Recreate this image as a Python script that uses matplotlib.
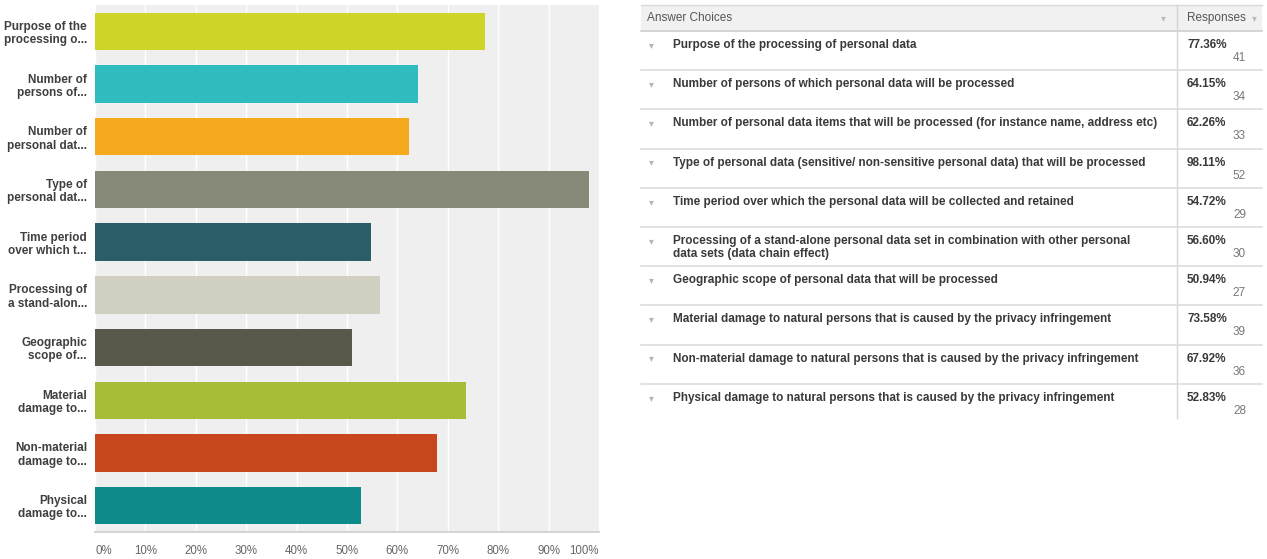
import matplotlib
matplotlib.use("Agg")
import matplotlib.pyplot as plt
from matplotlib.patches import Rectangle

W, H = 1267, 559
DPI = 100

short_labels = ["Purpose of the\nprocessing o...", "Number of\npersons of...", "Number of\npersonal dat...",
                "Type of\npersonal dat...", "Time period\nover which t...", "Processing of\na stand-alon...",
                "Geographic\nscope of...", "Material\ndamage to...", "Non-material\ndamage to...",
                "Physical\ndamage to..."]
choices = ["Purpose of the processing of personal data",
           "Number of persons of which personal data will be processed",
           "Number of personal data items that will be processed (for instance name, address etc)",
           "Type of personal data (sensitive/ non-sensitive personal data) that will be processed",
           "Time period over which the personal data will be collected and retained",
           "Processing of a stand-alone personal data set in combination with other personal\ndata sets (data chain effect)",
           "Geographic scope of personal data that will be processed",
           "Material damage to natural persons that is caused by the privacy infringement",
           "Non-material damage to natural persons that is caused by the privacy infringement",
           "Physical damage to natural persons that is caused by the privacy infringement"]
percents = [77.36, 64.15, 62.26, 98.11, 54.72, 56.60, 50.94, 73.58, 67.92, 52.83]
counts = [41, 34, 33, 52, 29, 30, 27, 39, 36, 28]
colors = ["#cfd526", "#30bcbf", "#f5a91d", "#888a79", "#2c5e6a", "#d0cfc2",
          "#58584b", "#a8bd37", "#c8461d", "#0f8a8b"]
xticks = [0, 10, 20, 30, 40, 50, 60, 70, 80, 90, 100]

plt.rcParams['font.family'] = ['Liberation Sans', 'DejaVu Sans']
fig = plt.figure(figsize=(W / DPI, H / DPI), dpi=DPI)
fig.patch.set_facecolor("white")

# ---- left bar chart ----
L, R, T, B = 95, 599, 5, 532
ax = fig.add_axes([L / W, 1 - B / H, (R - L) / W, (B - T) / H])
ax.set_facecolor("#efefef")
y = list(range(len(percents)))
ax.barh(y, percents, height=0.71, color=colors, zorder=3)
ax.set_xlim(0, 100)
ax.set_ylim(len(percents) - 0.5, -0.5)
ax.set_xticks(xticks)
ax.set_xticklabels([f"{t}%" for t in xticks], color="#666666", fontsize=8.3)
tl = ax.get_xticklabels()
tl[0].set_ha("left")
tl[-1].set_ha("right")
ax.set_yticks(y)
ax.set_yticklabels(short_labels, fontsize=8.5, fontweight="bold", color="#3f3f3f",
                   linespacing=1.15)
ax.tick_params(axis="both", length=0)
ax.tick_params(axis="x", pad=9)
ax.tick_params(axis="y", pad=5.8)
ax.grid(axis="x", color="white", linewidth=1.0, zorder=1)
for s in ["top", "right", "left"]:
    ax.spines[s].set_visible(False)
ax.spines["bottom"].set_color("#d5d5d5")
ax.spines["bottom"].set_linewidth(1.5)

# ---- right table ----
ax2 = fig.add_axes([0, 0, 1, 1])
ax2.set_xlim(0, W)
ax2.set_ylim(H, 0)
ax2.axis("off")
ax2.patch.set_alpha(0)

FS = 8.45
tx0, tx1, tdiv = 641, 1262, 1177
top, hdr_bot, row_h = 5, 31, 39.2
ax2.add_patch(Rectangle((tx0, top), tx1 - tx0, hdr_bot - top, facecolor="#f1f1f1",
                        edgecolor="none"))
ax2.plot([tx0, tx1], [top, top], color="#d8d8d8", lw=1)
ax2.plot([tx0, tx1], [hdr_bot, hdr_bot], color="#cfcfcf", lw=1.2)
ax2.text(647, (top + hdr_bot) / 2, "Answer Choices", fontsize=FS, color="#555555",
         va="center", ha="left")
ax2.text(1163, (top + hdr_bot) / 2, "\u25be", fontsize=7, color="#bbbbbb",
         va="center", ha="center", family="DejaVu Sans")
ax2.text(1187, (top + hdr_bot) / 2, "Responses", fontsize=FS, color="#555555",
         va="center", ha="left")
ax2.text(1254, (top + hdr_bot) / 2, "\u25be", fontsize=7, color="#bbbbbb",
         va="center", ha="center", family="DejaVu Sans")

n = len(choices)
table_bot = hdr_bot + n * row_h - 5
ax2.plot([tdiv, tdiv], [top, table_bot], color="#d5d5d5", lw=1)
for i, (c, p, k) in enumerate(zip(choices, percents, counts)):
    rt = hdr_bot + i * row_h
    if i > 0:
        ax2.plot([tx0, tx1], [rt, rt], color="#dcdcdc", lw=1.2)
    ax2.text(651, rt + 14, "\u25be", fontsize=7, color="#b5b5b5", va="center",
             ha="center", family="DejaVu Sans")
    ax2.text(673, rt + 8, c, fontsize=FS, fontweight="bold", color="#3a3a3a",
             va="top", ha="left", linespacing=1.12)
    ax2.text(1187, rt + 14, f"{p:.2f}%", fontsize=FS, fontweight="bold",
             color="#3a3a3a", va="center", ha="left")
    ax2.text(1246, rt + 27, f"{k}", fontsize=FS, color="#777777", va="center",
             ha="right")

fig.savefig("out.png", dpi=DPI, facecolor="white")
